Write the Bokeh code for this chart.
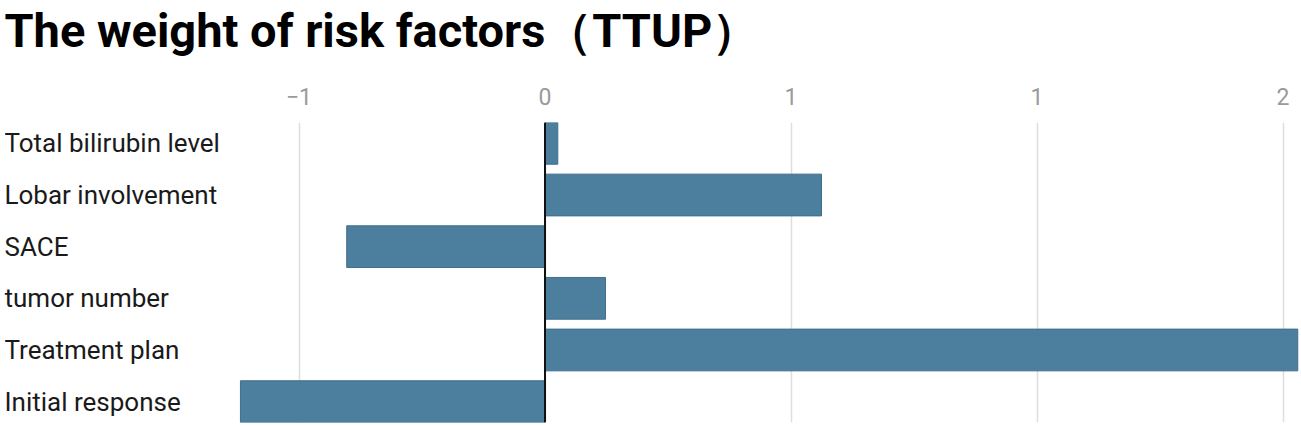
from bokeh.plotting import figure
from bokeh.models import Range1d, FixedTicker, Span, ColumnDataSource, Title
from bokeh.core.properties import value
from bokeh.embed import file_html
from bokeh.resources import INLINE

# ---- data ----
categories = ["Total bilirubin level", "Lobar involvement", "SACE",
              "tumor number", "Treatment plan", "Initial response"]
weights = [0.026, 0.562, -0.403, 0.123, 1.530, -0.619]
tick_values = [-0.5, 0, 0.5, 1, 1.5]
tick_labels = ["\u22121", "0", "1", "1", "2"]
title_text = "The weight of risk factors\uff08TTUP\uff09"

# ---- layout constants ----
PX_PER_UNIT = 492.0
W, H = 1300, 424
BL, BR, BT, BB = 4, 1, 120, 2
FRAME_W = W - BL - BR
X_START = -(544.5 - BL) / PX_PER_UNIT
X_END = X_START + FRAME_W / PX_PER_UNIT
BAR_H = 42 / 52

rows = list(range(len(categories)))
src = ColumnDataSource(dict(
    cat=categories, y=rows, w=weights,
    left=[min(0, v) for v in weights],
    right=[max(0, v) for v in weights],
    lx=[X_START] * len(categories),
))

p = figure(width=W, height=H, output_backend="svg", toolbar_location=None,
           x_range=Range1d(X_START, X_END),
           y_range=Range1d(len(categories) - 1 + 0.5 - (1 - BAR_H) / 2,
                           -0.5 + (1 - BAR_H) / 2),
           x_axis_location="above", y_axis_location=None,
           min_border_left=BL, min_border_right=BR, min_border_bottom=BB,
           min_border_top=BT)
p.outline_line_color = None
p.background_fill_color = "white"
p.border_fill_color = "white"

t = Title(text=title_text, text_font="Roboto", text_font_size="47px",
          text_font_style="bold", text_color="#000000", offset=0,
          standoff=4, vertical_align="top")
p.add_layout(t, "above")

p.hbar(y="y", left="left", right="right", height=BAR_H, source=src,
       fill_color="#4c7e9e", line_color="#3f6e8c", line_width=1)

p.add_layout(Span(location=0, dimension="height", line_color="#111111",
                  line_width=2))

p.text(x="lx", y="y", text="cat", source=src, text_align="left",
       text_baseline="middle", text_font=value("Roboto"),
       text_font_size="26px", text_color="#1a1a1a")

ax = p.xaxis[0]
ax.ticker = FixedTicker(ticks=tick_values)
ax.major_label_overrides = {v: l for v, l in zip(tick_values, tick_labels)}
ax.axis_line_color = None
ax.major_tick_line_color = None
ax.minor_tick_line_color = None
ax.major_label_text_font = "Roboto"
ax.major_label_text_font_size = "23px"
ax.major_label_text_color = "#9a9a9a"
ax.major_label_standoff = 12
# invisible spacer label between the title and the tick labels
ax.axis_label = " "
ax.axis_label_text_font_size = "12px"
ax.axis_label_standoff = 6

p.xgrid.ticker = FixedTicker(ticks=tick_values)
p.xgrid.grid_line_color = "#dedede"
p.xgrid.grid_line_width = 1.5
p.ygrid.grid_line_color = None

open("out.html", "w").write(file_html(p, INLINE))
